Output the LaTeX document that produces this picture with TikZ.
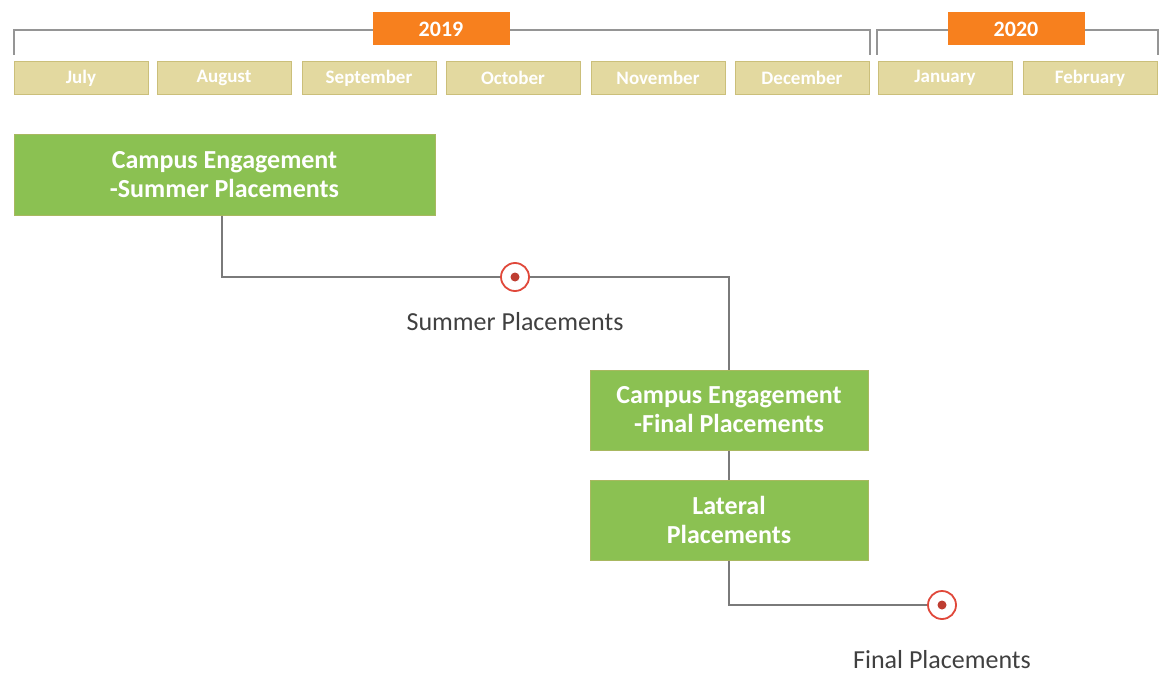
\documentclass[tikz,border=0pt]{standalone}
\usepackage{fontspec}
\setmainfont{Carlito}
\definecolor{khaki}{HTML}{E3D9A0}
\definecolor{khakiedge}{HTML}{CBBF7A}
\definecolor{orng}{HTML}{F7801E}
\definecolor{grn}{HTML}{8BC152}
\definecolor{grnedge}{HTML}{A8B860}
\definecolor{lin}{HTML}{7A7A7A}
\definecolor{mark}{HTML}{E0483A}
\tikzset{
  month/.style={draw=khakiedge, line width=1pt, fill=khaki, minimum width=134pt, minimum height=33pt, inner sep=0pt, text=white, font=\fontsize{19}{21}\selectfont\bfseries},
  year/.style={fill=orng, minimum width=137pt, minimum height=33pt, inner sep=0pt, text=white, font=\fontsize{22}{24}\selectfont\bfseries},
  stage/.style={draw=grnedge, line width=1pt, fill=grn, inner sep=0pt, text=white, align=center, font=\fontsize{26}{29}\selectfont\bfseries},
  conn/.style={draw=lin, line width=1.8pt},
  brk/.style={draw=lin!80, line width=1.5pt},
  milestone/.style={circle, draw=mark, line width=1.8pt, fill=white, minimum size=28pt, inner sep=0pt},
  dot/.style={circle, fill=mark!85!black, minimum size=9pt, inner sep=0pt},
  lbl/.style={text=black!75, font=\fontsize{26}{29}\selectfont}
}
\begin{document}
\begin{tikzpicture}[x=1pt,y=-1pt]
\useasboundingbox (0,0) rectangle (1172,674);
% brackets
\coordinate (b1l) at (14,55);
\coordinate (b1lt) at (14,30);
\coordinate (b1rt) at (870,30);
\coordinate (b1r) at (870,55);
\coordinate (b2l) at (877,55);
\coordinate (b2lt) at (877,30);
\coordinate (b2rt) at (1158,30);
\coordinate (b2r) at (1158,55);
\draw[brk] (b1l) -- (b1lt) -- (b1rt) -- (b1r);
\draw[brk] (b2l) -- (b2lt) -- (b2rt) -- (b2r);
\node[year] (y1) at (441,29) {2019};
\node[year] (y2) at (1016,29) {2020};
% months
\node[month] (m1) at (81,78) {July};
\node[month] (m2) at (224,78) {August};
\node[month] (m3) at (369,78) {September};
\node[month] (m4) at (513,78) {October};
\node[month] (m5) at (658,78) {November};
\node[month] (m6) at (802,78) {December};
\node[month] (m7) at (945,78) {January};
\node[month] (m8) at (1090,78) {February};
% stages
\node[stage, minimum width=421pt, minimum height=80pt] (s1) at (224.5,175) {Campus Engagement\\-Summer Placements};
\node[stage, minimum width=278pt, minimum height=80pt] (s2) at (729,410) {Campus Engagement\\-Final Placements};
\node[stage, minimum width=278pt, minimum height=80pt] (s3) at (729,520) {Lateral\\Placements};
% milestones
\node[milestone] (ms1) at (515,277) {};
\node[dot] at (ms1) {};
\node[lbl] (l1) at (515,322) {Summer Placements};
\node[milestone] (ms2) at (942,605) {};
\node[dot] at (ms2) {};
\node[lbl] (l2) at (942,660) {Final Placements};
% connectors
\coordinate (c1) at (222,277);
\coordinate (c2) at (729,277);
\coordinate (c3) at (729,605);
\draw[conn] (s1.south -| c1) -- (c1) -- (ms1.west);
\draw[conn] (ms1.east) -- (c2) -- (s2.north);
\draw[conn] (s2.south) -- (s3.north);
\draw[conn] (s3.south) -- (c3) -- (ms2.west);
\end{tikzpicture}
\end{document}
